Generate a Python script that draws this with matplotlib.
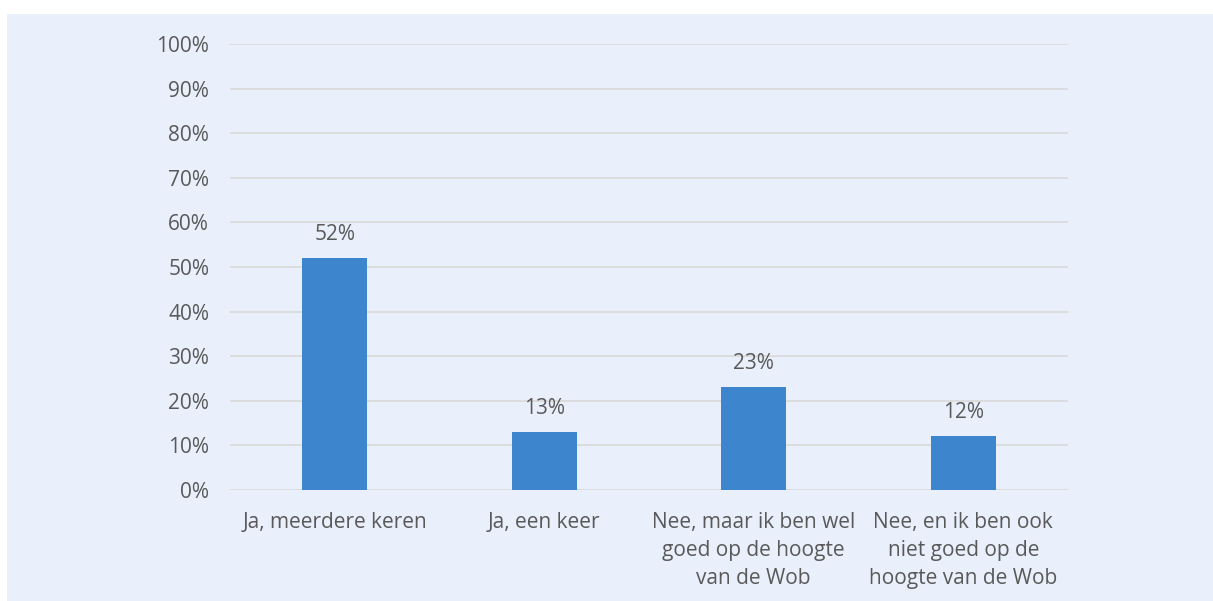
import matplotlib.pyplot as plt
from matplotlib.patches import Rectangle

categories = ['Ja, meerdere keren', 'Ja, een keer',
              'Nee, maar ik ben wel\ngoed op de hoogte\nvan de Wob',
              'Nee, en ik ben ook\nniet goed op de\nhoogte van de Wob']
values = [52, 13, 23, 12]
yticks = list(range(0, 101, 10))

text_col = '#595959'
panel_col = '#E9F0FC'
bar_col = '#3D85CC'

plt.rcParams['font.family'] = ['Open Sans', 'DejaVu Sans']

fig = plt.figure(figsize=(12.13, 6.01), dpi=100)
fig.patch.set_facecolor('white')
# light blue panel behind the chart
fig.add_artist(Rectangle((7 / 1213, 0), 1 - 7 / 1213, 587 / 601,
                         transform=fig.transFigure, facecolor=panel_col,
                         edgecolor='none', zorder=-10))

ax = fig.add_axes([230 / 1213, 1 - 490 / 601, 838 / 1213, 446 / 601])
ax.set_facecolor('none')

x = range(len(categories))
bars = ax.bar(x, values, width=0.31, color=bar_col, zorder=3)
for xi, v in zip(x, values):
    ax.text(xi, v + 3.0, f'{v}%', ha='center', va='bottom',
            fontsize=15, color=text_col)

ax.set_xlim(-0.5, len(categories) - 0.5)
ax.set_ylim(0, 100)
ax.set_yticks(yticks)
ax.set_yticklabels([f'{t}%' for t in yticks], fontsize=15, color=text_col)
ax.set_xticks(list(x))
ax.set_xticklabels(categories, fontsize=15, color=text_col, linespacing=1.42)
ax.tick_params(axis='y', length=0, pad=15)
ax.tick_params(axis='x', length=0, pad=16)
ax.grid(axis='y', color='#D9D9D9', linewidth=1.2, zorder=0)
for s in ax.spines.values():
    s.set_visible(False)

fig.savefig('out.png', dpi=100)
